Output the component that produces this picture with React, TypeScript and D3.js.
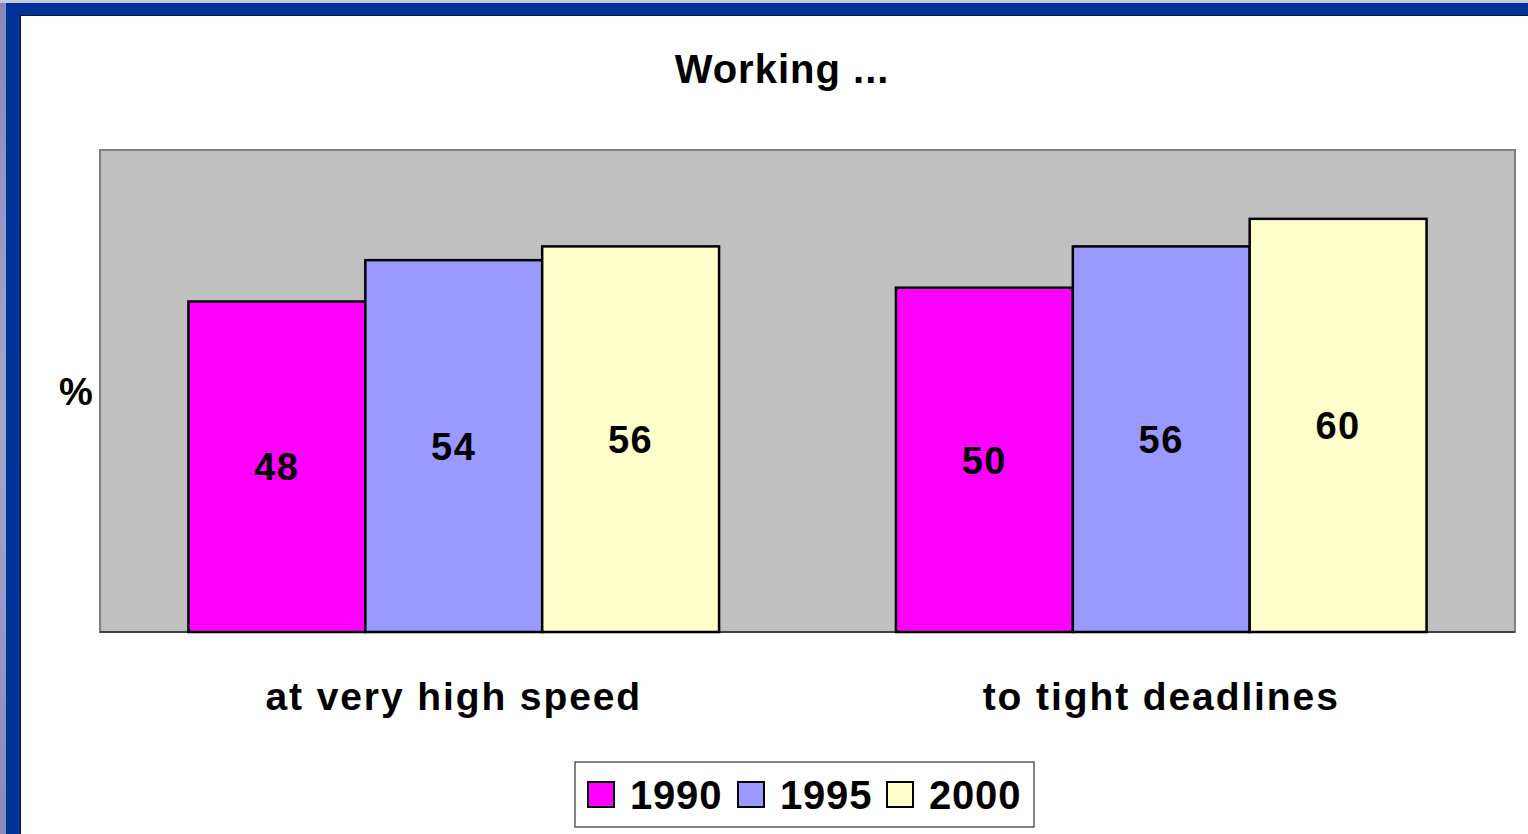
import React from 'react';
import * as d3 from 'd3';

const categories = ['at very high speed', 'to tight deadlines'];
const years = ['1990', '1995', '2000'];
const values1990 = [48, 50];
const values1995 = [54, 56];
const values2000 = [56, 60];
const yearColors = ['#FF00FF', '#9999FF', '#FFFFCC'];

const W = 1528;
const H = 834;
const FONT = '"Liberation Sans", Arial, sans-serif';

export default function App() {
    const plot = { left: 100, top: 150, right: 1515, bottom: 632 };
    const series = [values1990, values1995, values2000];

    const x0 = d3.scaleBand<string>()
        .domain(categories)
        .range([plot.left, plot.right])
        .paddingInner(0.25)
        .paddingOuter(0.125);
    const x1 = d3.scaleBand<string>()
        .domain(years)
        .range([0, x0.bandwidth()]);
    const y = d3.scaleLinear().domain([0, 70]).range([plot.bottom, plot.top]);

    const legendX = 575, legendY = 762, legendW = 459, legendH = 65;
    const legendItems = [588, 738, 887];

    return (
        <svg width={W} height={H} style={{ position: 'absolute', left: 0, top: 0 }}>
            <defs>
                <linearGradient id="edge" x1="0" y1="0" x2="0" y2="1">
                    <stop offset="0" stopColor="#8a86b8" />
                    <stop offset="0.5" stopColor="#a6a6cc" />
                    <stop offset="1" stopColor="#8c88bc" />
                </linearGradient>
            </defs>
            <rect x={0} y={0} width={W} height={H} fill="url(#edge)" />
            <rect x={0} y={0} width={W} height={3} fill="#c8c8dc" />
            <rect x={6} y={3} width={W} height={H} fill="#003399" />
            <rect x={20} y={15} width={W} height={H} fill="#0a1530" />
            <rect x={21} y={16} width={W} height={H} fill="#ffffff" />

            <text x={782} y={83} textAnchor="middle" fontFamily={FONT} fontWeight="bold" fontSize={40} letterSpacing={1}>
                Working ...
            </text>

            <rect x={plot.left} y={plot.top} width={plot.right - plot.left} height={plot.bottom - plot.top}
                fill="#C0C0C0" stroke="#808080" strokeWidth={2} />
            <line x1={plot.left} x2={plot.right} y1={plot.bottom} y2={plot.bottom} stroke="#404040" strokeWidth={2} />

            {categories.map((cat, ci) => (
                <g key={cat} transform={`translate(${x0(cat)},0)`}>
                    {years.map((yr, si) => {
                        const v = series[si][ci];
                        const bx = x1(yr) as number;
                        const top = y(v);
                        return (
                            <g key={yr}>
                                <rect x={bx} y={top} width={x1.bandwidth()} height={plot.bottom - top}
                                    fill={yearColors[si]} stroke="#000" strokeWidth={2.5} />
                                <text x={bx + x1.bandwidth() / 2} y={(top + plot.bottom) / 2} dy="0.36em"
                                    textAnchor="middle" fontFamily={FONT} fontWeight="bold" fontSize={38} letterSpacing={1.5}>
                                    {v}
                                </text>
                            </g>
                        );
                    })}
                </g>
            ))}

            <text x={76} y={391} dy="0.36em" textAnchor="middle" fontFamily={FONT} fontWeight="bold" fontSize={38}>%</text>

            {categories.map(cat => (
                <text key={cat} x={(x0(cat) as number) + x0.bandwidth() / 2} y={696} dy="0.36em"
                    textAnchor="middle" fontFamily={FONT} fontWeight="bold" fontSize={39} letterSpacing={1.9}>
                    {cat}
                </text>
            ))}

            <rect x={legendX} y={legendY} width={legendW} height={legendH} fill="#fff" stroke="#333" strokeWidth={1.2} />
            {years.map((yr, i) => (
                <g key={yr}>
                    <rect x={legendItems[i]} y={782} width={26} height={25} fill={yearColors[i]} stroke="#000" strokeWidth={2} />
                    <text x={legendItems[i] + 42} y={795} dy="0.36em" fontFamily={FONT} fontWeight="bold" fontSize={40} letterSpacing={0.8}>
                        {yr}
                    </text>
                </g>
            ))}
        </svg>
    );
}
